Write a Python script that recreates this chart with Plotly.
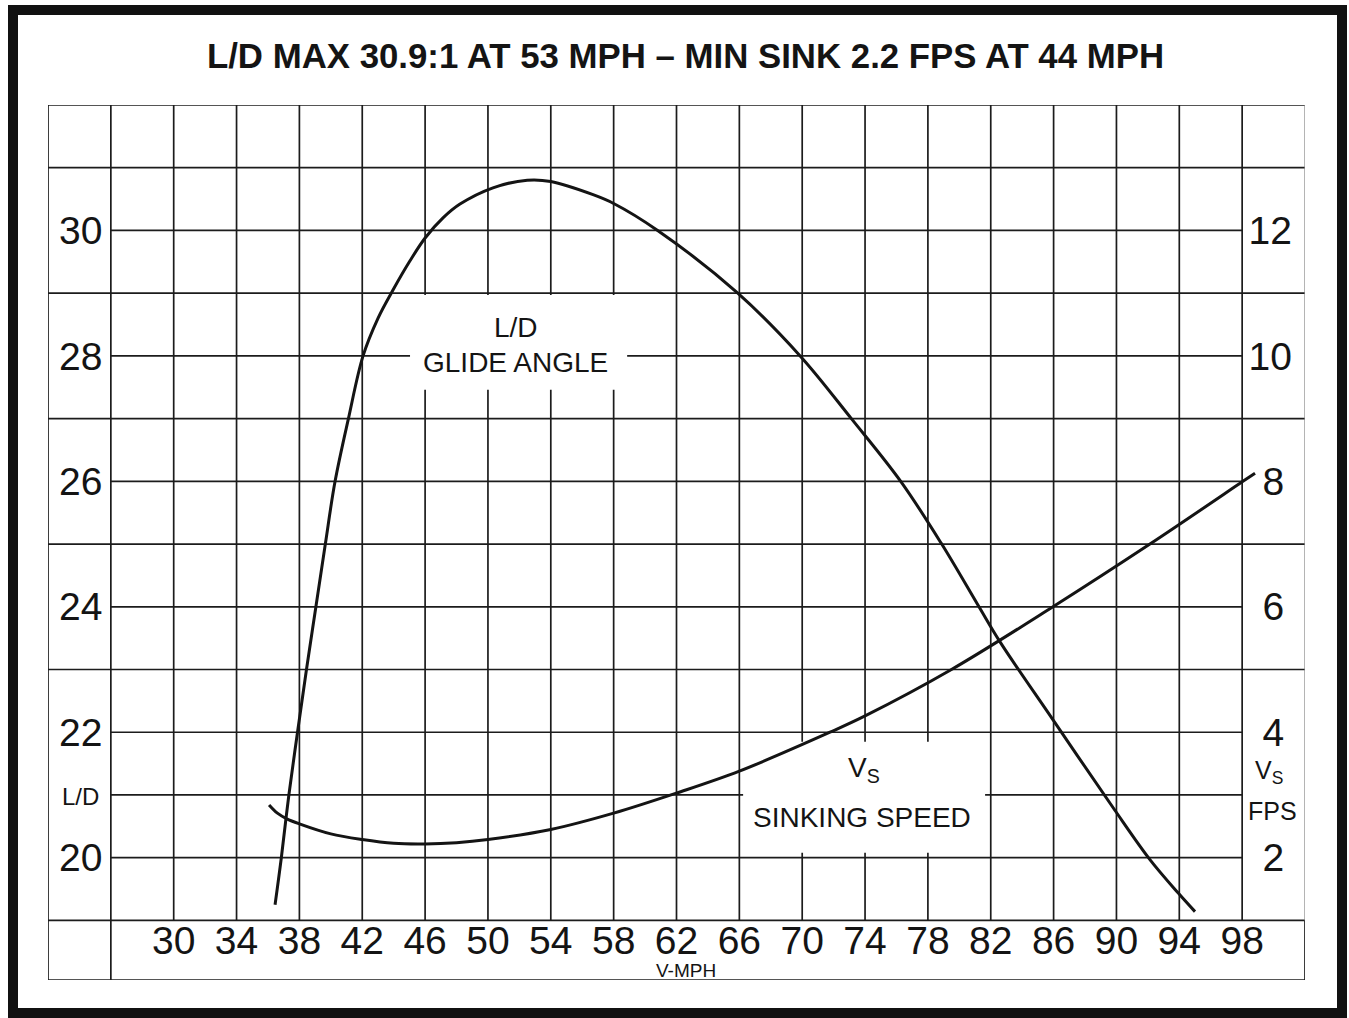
import plotly.graph_objects as go

# ---- data -----------------------------------------------------------------
# L/D (glide ratio) against airspeed
ld_mph = [36.45, 36.85, 37.33, 37.88, 38.45, 39.05, 39.65, 40.27, 41.12, 42.05,
          43.00, 44.00, 45.00, 46.00, 47.14, 48.22, 50.32, 52.50, 54.00, 56.69,
          58.00, 60.80, 65.90, 69.87, 73.13, 76.27, 78.88, 81.25, 82.59, 85.90,
          89.78, 92.13, 93.92, 95.00]
ld_ratio = [19.25, 20.00, 21.00, 22.00, 23.00, 24.00, 25.00, 26.00, 27.00, 28.00,
            28.60, 29.07, 29.50, 29.88, 30.20, 30.42, 30.68, 30.80, 30.78, 30.57,
            30.43, 30.00, 29.00, 28.00, 27.00, 26.00, 25.00, 24.00, 23.44, 22.22,
            20.80, 19.97, 19.44, 19.14]

# Sinking speed (ft/s) against airspeed
vs_mph = [36.07, 36.60, 37.20, 38.00, 40.00, 42.00, 44.00, 46.00, 48.00, 50.00,
          54.00, 58.00, 62.00, 66.00, 71.77, 74.00, 79.50, 85.96, 92.13, 98.05,
          98.82]
vs_fps = [2.84, 2.71, 2.62, 2.54, 2.38, 2.29, 2.23, 2.22, 2.24, 2.29,
          2.45, 2.71, 3.03, 3.38, 4.00, 4.26, 5.00, 6.00, 7.00, 8.00,
          8.13]

# Axis ticks
mph_ticks = [30, 34, 38, 42, 46, 50, 54, 58, 62, 66, 70, 74, 78, 82, 86, 90, 94, 98]
ld_ticks = [20, 22, 24, 26, 28, 30]
fps_ticks = [2, 4, 6, 8, 10, 12]

TITLE = "L/D MAX 30.9:1 AT 53 MPH \u2013 MIN SINK 2.2 FPS AT 44 MPH"

# ---- geometry --------------------------------------------------------------
W, H = 1349, 1018
M_L, M_R, M_T, M_B = 48, 44, 105, 38
PLOT_W = W - M_L - M_R
PLOT_H = H - M_T - M_B

STEP = 4                                  # mph per grid column
X_LO = mph_ticks[0] - 2 * STEP            # left label column + blank column
X_HI = mph_ticks[-1] + STEP               # right label column
COL_L = X_LO + STEP                       # inner edge of left label column
COL_R = X_HI - STEP                       # inner edge of right label column
Y_TOP = 32
Y_AXIS_ROW = 19                           # top of the speed label row
Y_BOT = 18.05                             # bottom of the speed label row
FPS_OFFSET = 18                           # right scale = left scale - 18

FONT = "Liberation Sans, Arial, Helvetica, sans-serif"
INK = "#141414"
GRID = dict(color="#1c1c1c", width=1.7)


def px_x(px):
    return (px - M_L) / PLOT_W


def px_y(py):
    return (H - M_B - py) / PLOT_H


shapes = []


def seg(x0, y0, x1, y1, line=GRID, layer="below"):
    shapes.append(dict(type="line", xref="x", yref="y", x0=x0, y0=y0, x1=x1,
                       y1=y1, line=line, layer=layer))


# horizontal rules: odd rows from 23 up cross the label columns,
# rows that carry a label stop at the label columns
for v in range(20, Y_TOP):
    if v % 2 == 1 and v >= 23:
        seg(X_LO, v, X_HI, v)
    else:
        seg(COL_L, v, COL_R, v)
seg(X_LO, Y_AXIS_ROW, X_HI, Y_AXIS_ROW)

# vertical rules
seg(COL_L, Y_BOT, COL_L, Y_TOP)
for m in range(COL_L + STEP, X_HI, STEP):
    seg(m, Y_AXIS_ROW, m, Y_TOP)

# white panels behind the curve captions
for x0, x1, y0, y1 in [(45.04, 58.86, 27.46, 28.97), (66.24, 81.64, 20.08, 21.85)]:
    shapes.append(dict(type="rect", xref="x", yref="y", x0=x0, x1=x1, y0=y0,
                       y1=y1, fillcolor="white", line=dict(width=0),
                       layer="below"))

# chart border
seg(X_LO, Y_TOP, X_HI, Y_TOP)
seg(X_LO, Y_BOT, X_HI, Y_BOT)
seg(X_LO, Y_BOT, X_LO, Y_TOP)
seg(X_HI, Y_BOT, X_HI, Y_AXIS_ROW)
seg(X_HI, Y_AXIS_ROW, X_HI, Y_TOP, line=dict(color="#8c8c8c", width=1.3))

# heavy outer frame
shapes.append(dict(type="rect", xref="paper", yref="paper",
                   x0=px_x(13), x1=px_x(1342), y0=px_y(1013), y1=px_y(10),
                   line=dict(color="#111111", width=10), fillcolor="rgba(0,0,0,0)",
                   layer="above"))

fig = go.Figure()
fig.add_trace(go.Scatter(x=ld_mph, y=ld_ratio, mode="lines", name="L/D",
                         line=dict(color=INK, width=3, shape="spline",
                                   smoothing=1.0),
                         yaxis="y", hoverinfo="skip"))
fig.add_trace(go.Scatter(x=vs_mph, y=vs_fps, mode="lines", name="Vs",
                         line=dict(color=INK, width=3, shape="spline",
                                   smoothing=1.0),
                         yaxis="y2", hoverinfo="skip"))

tick_font = dict(family=FONT, size=39, color=INK)


def note(text, x, y, size, yref="y"):
    return dict(text=text, x=x, y=y, xref="x", yref=yref, showarrow=False,
                xanchor="center", yanchor="middle",
                font=dict(family=FONT, size=size, color=INK))


annotations = [
    note("L/D", 51.79, 28.46, 28),
    note("GLIDE ANGLE", 51.75, 27.90, 28),
    note("V<sub>S</sub>", 73.93, 21.40, 28),
    note("SINKING SPEED", 73.81, 20.64, 28),
    note("L/D", 24.07, 20.97, 24),
    note("V<sub>S</sub>", 99.71, 21.37, 25),
    note("FPS", 99.96, 20.75, 25),
    note("V-MPH", 62.6, 18.20, 19),
]

fig.update_layout(
    width=W, height=H,
    margin=dict(l=M_L, r=M_R, t=M_T, b=M_B, pad=0),
    paper_bgcolor="white", plot_bgcolor="white",
    showlegend=False,
    title=dict(text=TITLE, x=px_x(685.5), xref="paper", xanchor="center",
               y=1 - 56 / H, yref="container", yanchor="middle",
               font=dict(family=FONT, size=34.8, color=INK, weight="bold")),
    xaxis=dict(range=[X_LO, X_HI], tickvals=mph_ticks,
               ticktext=[str(t) for t in mph_ticks],
               ticklabelposition="inside", ticks="", ticklabelstandoff=15,
               showgrid=False, zeroline=False, showline=False,
               tickfont=tick_font, fixedrange=True),
    yaxis=dict(range=[Y_BOT, Y_TOP], tickvals=ld_ticks,
               ticktext=[str(t) for t in ld_ticks],
               ticklabelposition="inside", ticks="", ticklabelstandoff=8,
               showgrid=False, zeroline=False, showline=False,
               tickfont=tick_font, fixedrange=True),
    yaxis2=dict(range=[Y_BOT - FPS_OFFSET, Y_TOP - FPS_OFFSET],
                overlaying="y", side="right", tickvals=fps_ticks,
                ticktext=[str(t) if t >= 10 else str(t) + "\u2009"
                          for t in fps_ticks],
                ticklabelposition="inside", ticks="", ticklabelstandoff=10,
                showgrid=False, zeroline=False, showline=False,
                tickfont=tick_font, fixedrange=True),
    shapes=shapes,
    annotations=annotations,
)

fig.write_html("out.html")
